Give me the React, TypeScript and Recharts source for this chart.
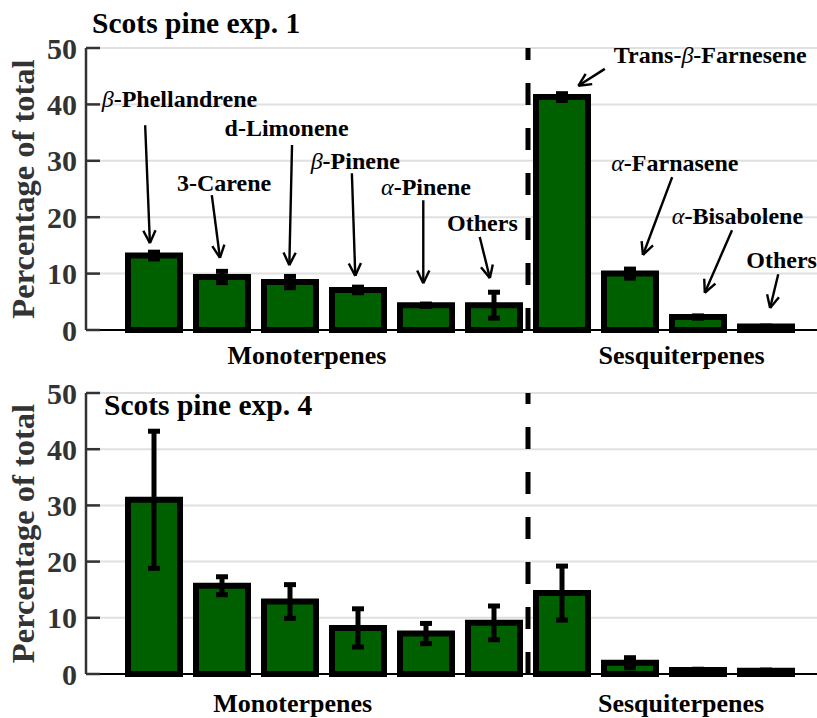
import React from 'react';
import {
  BarChart,
  Bar,
  XAxis,
  YAxis,
  CartesianGrid,
  ErrorBar,
  ReferenceLine,
  ReferenceDot,
} from 'recharts';

const compounds = [
  'β-Phellandrene',
  '3-Carene',
  'd-Limonene',
  'β-Pinene',
  'α-Pinene',
  'Others (mono)',
  'Trans-β-Farnesene',
  'α-Farnasene',
  'α-Bisabolene',
  'Others (sesqui)',
];

const exp1Mean = [13.2, 9.4, 8.5, 7.1, 4.4, 4.4, 41.3, 10.0, 2.3, 0.6];
const exp1Err = [0.6, 1.0, 1.0, 0.5, 0.2, 2.3, 0.6, 0.8, 0.2, 0.1];
const exp4Mean = [31.0, 15.7, 12.9, 8.2, 7.2, 9.1, 14.4, 2.0, 0.7, 0.6];
const exp4Err = [12.2, 1.6, 3.0, 3.4, 1.8, 3.0, 4.8, 0.9, 0.15, 0.1];

const yTicks = [0, 10, 20, 30, 40, 50];
const groupNames = ['Monoterpenes', 'Sesquiterpenes'];
const groupTicksExp1 = [2.75, 8.26];
const groupTicksExp4 = [2.54, 8.25];
const divider = 6; // between monoterpenes and sesquiterpenes

// labels with arrows for exp. 1, in axis units (x: bar i is centred at i + 0.5)
const exp1Notes = [
  { text: 'β-Phellandrene', tx: 0.875, ty: 41.1, from: [0.37, 36.3], to: [0.44, 15.4] },
  { text: '3-Carene', tx: 1.53, ty: 26.2, from: [1.35, 23.9], to: [1.47, 12.8] },
  { text: 'd-Limonene', tx: 2.45, ty: 35.8, from: [2.53, 32.8], to: [2.49, 11.5] },
  { text: 'β-Pinene', tx: 3.46, ty: 30.1, from: [3.41, 27.8], to: [3.46, 9.6] },
  { text: 'α-Pinene', tx: 4.5, ty: 25.4, from: [4.46, 23.0], to: [4.46, 8.3] },
  { text: 'Others', tx: 5.33, ty: 19.0, from: [5.29, 16.5], to: [5.44, 9.2] },
  { text: 'Trans-β-Farnesene', tx: 8.68, ty: 48.8, from: [7.13, 46.3], to: [6.74, 43.3] },
  { text: 'α-Farnasene', tx: 8.16, ty: 29.6, from: [8.12, 27.1], to: [7.69, 13.3] },
  { text: 'α-Bisabolene', tx: 9.08, ty: 20.2, from: [9.0, 17.7], to: [8.6, 6.6] },
  { text: 'Others', tx: 9.73, ty: 12.4, from: [9.68, 9.9], to: [9.56, 3.9] },
];

const font = "'Liberation Serif', 'Times New Roman', serif";

const Greek = ({ text }: { text: string }) => (
  <>
    {text
      .split(/([αβ])/)
      .filter(Boolean)
      .map((s, i) =>
        /[αβ]/.test(s) ? (
          <tspan key={i} fontStyle="italic" fontWeight="normal">
            {s}
          </tspan>
        ) : (
          <tspan key={i}>{s}</tspan>
        )
      )}
  </>
);

const YTick = (props: any) => {
  const { x, y, payload } = props;
  return (
    <g>
      <text
        x={x}
        y={y}
        dy="0.35em"
        textAnchor="end"
        fontFamily={font}
        fontWeight="bold"
        fontSize={30}
        fill="#333"
      >
        {payload.value}
      </text>
      <line x1={x + 9} x2={x + 23} y1={y} y2={y} stroke="#333" strokeWidth={2.5} />
    </g>
  );
};

const YLabel = (props: any) => {
  const vb = props.viewBox;
  const cy = vb.y + vb.height / 2;
  return (
    <text
      x={34}
      y={cy}
      transform={`rotate(-90 34 ${cy})`}
      textAnchor="middle"
      fontFamily={font}
      fontWeight="bold"
      fontSize={32.5}
      fill="#333"
    >
      Percentage of total
    </text>
  );
};

const Arrow = (props: any) => {
  const { x1, y1, x2, y2 } = props;
  const a = Math.atan2(y2 - y1, x2 - x1);
  const len = 14;
  const spread = 0.45;
  return (
    <g stroke="#000" strokeWidth={2.4} fill="none">
      <line x1={x1} y1={y1} x2={x2} y2={y2} />
      <line x1={x2} y1={y2} x2={x2 - len * Math.cos(a - spread)} y2={y2 - len * Math.sin(a - spread)} />
      <line x1={x2} y1={y2} x2={x2 - len * Math.cos(a + spread)} y2={y2 - len * Math.sin(a + spread)} />
    </g>
  );
};

const textShape = (text: string, size: number, anchor: string, baseline: boolean) => (p: any) => (
  <text
    x={p.cx}
    y={p.cy}
    dy={baseline ? 0 : '0.35em'}
    textAnchor={anchor}
    fontFamily={font}
    fontWeight="bold"
    fontSize={size}
    fill="#000"
  >
    <Greek text={text} />
  </text>
);

interface PanelProps {
  title: string;
  titleX: number;
  titleY: number;
  means: number[];
  errs: number[];
  groupTicks: number[];
  notes: typeof exp1Notes;
  top: number;
  height: number;
  marginTop: number;
  axisHeight: number;
  labelGap: number;
}

const Panel = (p: PanelProps) => {
  const data = compounds.map((name, i) => ({
    name,
    pos: i + 0.5,
    value: p.means[i],
    err: p.errs[i],
  }));
  return (
    <div style={{ position: 'absolute', left: 0, top: p.top }}>
      <BarChart
        width={817}
        height={p.height}
        data={data}
        margin={{ top: p.marginTop, right: 0, bottom: 0, left: 0 }}
      >
        <CartesianGrid vertical={false} stroke="#e0e0e0" strokeWidth={2} />
        <XAxis
          xAxisId="n"
          dataKey="pos"
          type="number"
          domain={[0, 10]}
          allowDataOverflow
          padding={{ left: 34, right: 17 }}
          ticks={p.groupTicks}
          interval={0}
          tickFormatter={(_v: number, i: number) => groupNames[i]}
          tickLine={false}
          tickSize={0}
          tickMargin={p.labelGap}
          height={p.axisHeight}
          axisLine={{ stroke: '#000', strokeWidth: 2 }}
          tick={{ fontSize: 26, fontWeight: 'bold', fill: '#000', fontFamily: font }}
        />
        <XAxis dataKey="name" hide height={0} padding={{ left: 34, right: 17 }} />
        <YAxis
          domain={[0, 50]}
          ticks={yTicks}
          width={86}
          tickSize={0}
          tickMargin={9}
          tickLine={false}
          axisLine={{ stroke: '#333', strokeWidth: 2.5 }}
          tick={<YTick />}
          label={YLabel}
        />
        <ReferenceLine
          xAxisId="n"
          x={divider}
          stroke="#000"
          strokeWidth={5}
          strokeDasharray="22 23"
        />
        <Bar
          dataKey="value"
          fill="#006000"
          stroke="#000"
          strokeWidth={6}
          barSize={52}
          isAnimationActive={false}
        >
          <ErrorBar dataKey="err" width={6} strokeWidth={5} stroke="#000" />
        </Bar>
        {p.notes.map((n, i) => (
          <ReferenceLine
            key={'a' + i}
            xAxisId="n"
            ifOverflow="visible"
            segment={[
              { x: n.from[0], y: n.from[1] },
              { x: n.to[0], y: n.to[1] },
            ]}
            shape={Arrow}
          />
        ))}
        {p.notes.map((n, i) => (
          <ReferenceDot
            key={'t' + i}
            xAxisId="n"
            x={n.tx}
            y={n.ty}
            r={0}
            ifOverflow="visible"
            shape={textShape(n.text, 24, 'middle', false)}
          />
        ))}
        <ReferenceDot
          xAxisId="n"
          x={p.titleX}
          y={p.titleY}
          r={0}
          ifOverflow="visible"
          shape={textShape(p.title, 29.5, 'start', true)}
        />
      </BarChart>
    </div>
  );
};

export default function App() {
  return (
    <div style={{ position: 'absolute', left: 0, top: 0, width: 817, height: 718, background: '#fff' }}>
      <Panel
        title="Scots pine exp. 1"
        titleX={-0.41}
        titleY={52.7}
        means={exp1Mean}
        errs={exp1Err}
        groupTicks={groupTicksExp1}
        notes={exp1Notes}
        top={0}
        height={372}
        marginTop={48}
        axisHeight={42}
        labelGap={16}
      />
      <Panel
        title="Scots pine exp. 4"
        titleX={-0.235}
        titleY={46.1}
        means={exp4Mean}
        errs={exp4Err}
        groupTicks={groupTicksExp4}
        notes={[]}
        top={360}
        height={358}
        marginTop={33}
        axisHeight={44}
        labelGap={20}
      />
    </div>
  );
}
